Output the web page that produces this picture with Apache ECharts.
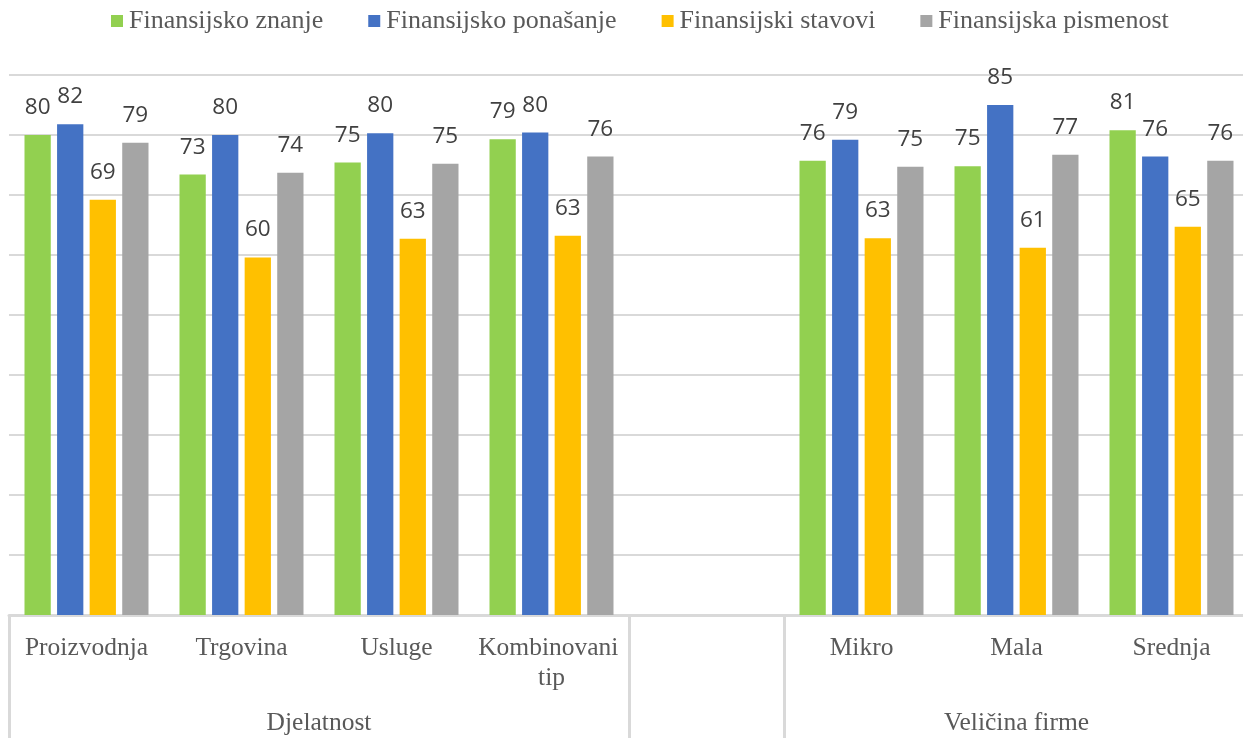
<!DOCTYPE html>
<html>
<head>
<meta charset="utf-8">
<title>Finansijska pismenost</title>
<script src="https://cdn.jsdelivr.net/npm/echarts@6/dist/echarts.min.js"></script>
<style>
    html, body { margin: 0; padding: 0; background: #fff; overflow: hidden; }
    /* dijagram je desno malo odsječen, kao u originalu */
    #main { width: 1250px; height: 738px; }
</style>
</head>
<body>
<div id="main"></div>
<script type="text/javascript">
    // podaci
    var categories = ['Proizvodnja', 'Trgovina', 'Usluge', 'Kombinovani tip', '', 'Mikro', 'Mala', 'Srednja'];
    var seriesNames = ['Finansijsko znanje', 'Finansijsko ponašanje', 'Finansijski stavovi', 'Finansijska pismenost'];
    var znanje    = [80.0, 73.4, 75.4, 79.3, null, 75.7, 74.8, 80.8];
    var ponasanje = [81.8, 80.0, 80.3, 80.4, null, 79.2, 85.0, 76.4];
    var stavovi   = [69.2, 59.6, 62.7, 63.2, null, 62.8, 61.2, 64.7];
    var pismenost = [78.7, 73.7, 75.2, 76.4, null, 74.7, 76.7, 75.7];
    var groupNames = ['Djelatnost', 'Veličina firme'];
    var groupSizes = [4, 3];   // broj kategorija po grupi, između grupa jedna prazna
    var colors = ['#92d050', '#4472c4', '#ffc000', '#a5a5a5'];

    // granice i sredine grupa
    var groupCenters = [];
    var groupBounds = [0];
    var start = 0;
    for (var g = 0; g < groupSizes.length; g++) {
        groupCenters.push(start + groupSizes[g] / 2);
        groupBounds.push(start + groupSizes[g]);
        start += groupSizes[g] + 1;
        if (g < groupSizes.length - 1) groupBounds.push(start);
    }

    var serif = 'Liberation Serif';
    var dataSets = [znanje, ponasanje, stavovi, pismenost];
    var series = [];
    for (var i = 0; i < dataSets.length; i++) {
        series.push({
            name: seriesNames[i],
            type: 'bar',
            xAxisIndex: 0,
            data: dataSets[i],
            barGap: '24%',
            barCategoryGap: '20%',
            itemStyle: { color: colors[i] },
            label: {
                show: true,
                position: 'top',
                distance: 16,
                fontFamily: 'Open Sans',
                fontSize: 22.5,
                color: '#404040',
                formatter: function (p) { return Math.round(p.value); }
            }
        });
    }

    var myChart = echarts.init(document.getElementById('main'));
    myChart.setOption({
        animation: false,
        legend: {
            top: 3,
            left: 106,
            icon: 'rect',
            itemWidth: 12,
            itemHeight: 12,
            itemGap: 45,
            data: seriesNames,
            textStyle: { fontFamily: serif, fontSize: 26, color: '#595959', padding: [0, 0, 0, 1] }
        },
        grid: { left: 9, top: 75, right: 1, bottom: 123, containLabel: false },
        xAxis: [
            {
                type: 'category',
                data: categories,
                position: 'bottom',
                axisLine: { show: true, lineStyle: { color: '#d9d9d9', width: 3 } },
                axisTick: {
                    show: true,
                    length: 125,
                    lineStyle: { color: '#d9d9d9', width: 3 },
                    interval: function (index) {
                        return groupBounds.indexOf(index) >= 0;
                    }
                },
                axisLabel: {
                    interval: 0,
                    margin: 18,
                    fontFamily: serif,
                    fontSize: 25.5,
                    lineHeight: 30,
                    color: '#595959',
                    width: 150,
                    overflow: 'break'
                },
                splitLine: { show: false }
            },
            {
                type: 'value',
                min: 0,
                max: categories.length,
                position: 'bottom',
                axisLine: { show: false },
                axisTick: { show: false },
                splitLine: { show: false },
                axisLabel: {
                    customValues: groupCenters,
                    margin: 93,
                    fontFamily: serif,
                    fontSize: 25.5,
                    lineHeight: 30,
                    color: '#595959',
                    formatter: function (v) {
                        var k = groupCenters.indexOf(v);
                        return k >= 0 ? groupNames[k] : '';
                    }
                }
            }
        ],
        yAxis: {
            type: 'value',
            min: 0,
            max: 90,
            interval: 10,
            axisLine: { show: false },
            axisTick: { show: false },
            axisLabel: { show: false },
            splitLine: { lineStyle: { color: '#d9d9d9', width: 2 } }
        },
        series: series
    });
</script>
</body>
</html>
